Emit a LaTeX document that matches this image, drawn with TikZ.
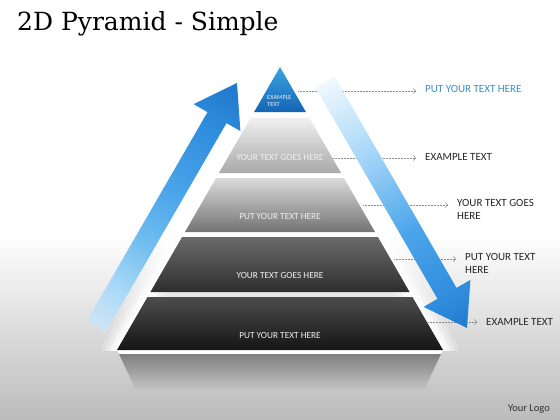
\documentclass[tikz,border=0pt]{standalone}
\usepackage{fontspec}
\setmainfont{Carlito}
\newfontfamily\titlefont{DejaVu Serif}
\usetikzlibrary{arrows.meta, positioning}
\definecolor{bgbot}{HTML}{BBBBBB}
\definecolor{tipblue}{HTML}{3AA3E3}
\definecolor{tipdark}{HTML}{1565B4}
\definecolor{arrdark}{HTML}{1A70C4}
\definecolor{arrdeep}{HTML}{2F8CDD}
\definecolor{arrmid}{HTML}{4BA5EA}
\definecolor{arrsoft}{HTML}{72BEF0}
\definecolor{arrlight}{HTML}{ABD9F8}
\definecolor{arrpale}{HTML}{E3ECF3}
\definecolor{labelblue}{HTML}{3A8FC9}
\pgfdeclareverticalshading{upshade}{100bp}{color(0bp)=(arrpale); color(12bp)=(arrpale); color(28bp)=(arrlight); color(40bp)=(arrsoft); color(54bp)=(arrmid); color(72bp)=(arrdeep); color(88bp)=(arrdark); color(100bp)=(arrdark)}
\pgfdeclareverticalshading{downshade}{100bp}{color(0bp)=(white); color(14bp)=(white); color(36bp)=(arrlight); color(58bp)=(arrmid); color(76bp)=(arrdeep); color(88bp)=(arrdark); color(100bp)=(arrdark)}
\tikzset{
  leader/.style={densely dotted, black!45, line width=0.5pt, shorten >=9pt, -{Straight Barb[length=2.5pt,width=5pt]}},
  lvltext/.style={font=\fontsize{9.3}{11}\selectfont, text=white!94!black, inner sep=0},
  sidelabel/.style={font=\fontsize{11}{13}\selectfont, text=black!85, inner sep=0, anchor=west, align=left}
}

\begin{document}
\begin{tikzpicture}[x=1pt, y=-1pt]
            \useasboundingbox (0,0) rectangle (560,420);
            \fill[white] (0,0) rectangle (560,235);
            \shade[top color=white, bottom color=bgbot] (0,235) rectangle (560,420);
            \node[font=\titlefont\fontsize{25}{29}\selectfont, anchor=base west, inner sep=0] (title) at (17,31) {2D Pyramid - Simple};
            % pyramid
            \begin{scope}
              \clip (0,0) rectangle (560,350);
              \foreach \w/\op in {30/0.2, 22/0.35, 14/0.6, 6/0.9}
                \draw[white, line width=\w pt, opacity=\op, line join=round] (280,67) -- (443,350) -- (117,350) -- cycle;
            \end{scope}
            \fill[white] (117,350) -- (443,350) -- (441,354) -- (119,354) -- cycle;
            \shade[top color=tipblue, bottom color=tipdark] (280,67) -- (305.9,112) -- (254.1,112) -- cycle;
            \foreach \yt/\yb/\ct/\cb in {118/173/black!6/black!34, 178/232/black!14/black!55, 237/292/black!58/black!82, 297/350/black!70/black!92}
              \shade[top color=\ct, bottom color=\cb] ({280-0.576*(\yt-67)},\yt) -- ({280+0.576*(\yt-67)},\yt) -- ({280+0.576*(\yb-67)},\yb) -- ({280-0.576*(\yb-67)},\yb) -- cycle;
            \shade[top color=black!50, bottom color=black!23] (119,354) -- (441,354) -- (424,390) -- (136,390) -- cycle;
            \node[lvltext, font=\fontsize{6.3}{7}\selectfont, align=left, anchor=west] (lv1) at (267,100.5) {EXAMPLE\\TEXT};
            \node[lvltext] (lv2) at (280,158) {YOUR TEXT GOES HERE};
            \node[lvltext] (lv3) at (280,217) {PUT YOUR TEXT HERE};
            \node[lvltext] (lv4) at (280,276) {YOUR TEXT GOES HERE};
            \node[lvltext] (lv5) at (280,336) {PUT YOUR TEXT HERE};
            % labels on the right
            \coordinate (e1) at (298,91);
            \coordinate (e2) at (333,158);
            \coordinate (e3) at (363,205);
            \coordinate (e4) at (394,259);
            \coordinate (e5) at (428,322);
            \node[sidelabel, text=labelblue] (t1) at (425,89) {PUT YOUR TEXT HERE};
            \node[sidelabel] (t2) at (425,157) {EXAMPLE TEXT};
            \node[sidelabel] (t3) at (457,209.5) {YOUR TEXT GOES\\HERE};
            \node[sidelabel] (t4) at (465,263.5) {PUT YOUR TEXT\\HERE};
            \node[sidelabel] (t5) at (486,322) {EXAMPLE TEXT};
            \foreach \i in {1,...,5}
              \draw[leader] (e\i) -- (e\i -| t\i.west);
            % arrows
            \shade[shading=upshade, shading angle=-30] (87,320.8) -- (207.5,112.1) -- (193.6,104.1) -- (237,83) -- (240.4,131.1) -- (226.5,123.1) -- (106,331.8) -- cycle;
            \shade[shading=downshade, shading angle=-150] (315.5,87.5) -- (334.5,76.5) -- (456.5,287.9) -- (470.4,279.9) -- (467,328) -- (423.6,306.9) -- (437.5,298.9) -- cycle;
            \node[font=\fontsize{10.5}{12}\selectfont, text=black!80, anchor=base east, inner sep=0] (logo) at (550,411) {Your Logo};
        \end{tikzpicture}
\end{document}
